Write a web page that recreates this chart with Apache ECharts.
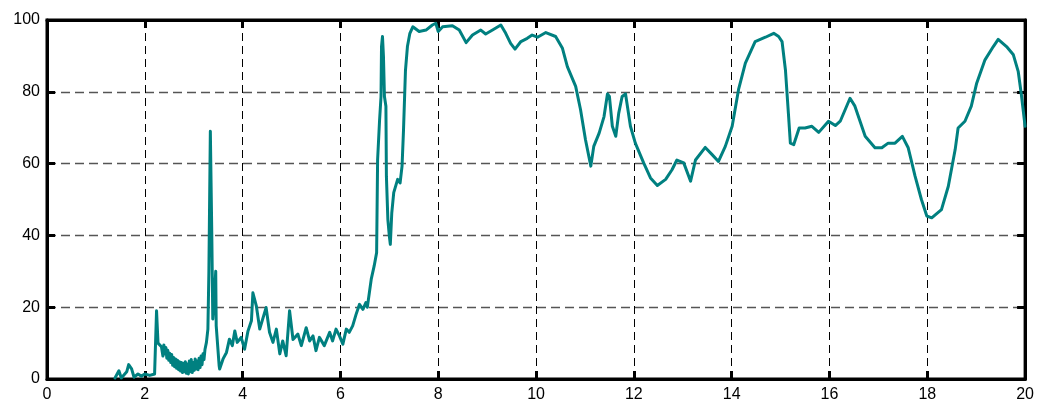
<!DOCTYPE html>
<html>
<head>
<meta charset="utf-8">
<script src="https://cdn.jsdelivr.net/npm/echarts@6/dist/echarts.min.js"></script>
<style>html,body{margin:0;padding:0;background:#fff}#c{width:1037px;height:403px}</style>
</head>
<body>
<div id="c"></div>
<script>
var xTicks = [0, 2, 4, 6, 8, 10, 12, 14, 16, 18, 20];
var yTicks = [0, 20, 40, 60, 80, 100];
var xValues = [
1.39,1.42,1.47,1.52,1.63,1.67,1.73,1.78,1.86,1.93,2.00,2.10,2.20,2.24,2.27,2.34,2.37,
2.39,2.41,2.43,2.45,2.47,2.49,2.51,2.53,2.55,2.57,2.59,2.61,2.63,2.65,2.67,2.69,2.71,2.73,2.75,2.77,2.79,
2.81,2.83,2.85,2.87,2.89,2.91,2.93,2.95,2.97,2.99,3.01,3.03,3.05,3.07,3.09,3.11,3.13,3.15,3.17,3.19,3.21,3.23,3.26,3.29,
3.31,3.34,3.37,3.39,3.43,3.45,3.46,3.52,3.53,3.60,3.67,3.73,3.79,3.84,3.89,3.97,
4.04,4.11,4.18,4.21,4.28,4.35,4.41,4.48,4.55,4.62,4.69,4.76,4.82,4.89,4.96,
5.03,5.13,5.20,5.30,5.37,5.44,5.50,5.57,5.67,5.78,5.84,5.91,5.98,
6.05,6.12,6.18,6.25,6.32,6.39,6.46,6.52,6.55,6.63,6.69,6.74,6.76,6.80,6.83,6.84,6.86,6.88,6.90,6.93,6.94,6.97,
7.00,7.02,7.05,7.09,7.17,7.22,7.26,7.29,7.33,7.37,7.42,7.48,7.61,7.75,7.88,7.95,
8.00,8.09,8.29,8.33,8.43,8.57,8.70,8.87,8.97,9.11,9.28,9.38,9.48,9.57,9.69,9.82,9.92,
10.03,10.20,10.40,10.54,10.64,10.81,10.91,11.01,11.12,11.18,11.29,11.39,11.46,11.50,11.56,11.63,11.69,11.76,11.83,11.93,
12.03,12.20,12.34,12.48,12.65,12.78,12.88,13.02,13.16,13.26,13.46,13.60,13.73,13.87,
14.01,14.14,14.28,14.48,14.69,14.86,14.96,15.03,15.10,15.16,15.20,15.27,15.38,15.50,15.64,15.78,15.98,
16.12,16.22,16.42,16.52,16.73,16.93,17.07,17.20,17.34,17.49,17.61,17.75,17.88,17.99,
18.09,18.29,18.43,18.57,18.63,18.77,18.90,19.01,19.18,19.35,19.45,19.62,19.76,19.86,19.92,20.00
];
var yValues = [
0.3,0.3,2.3,0.3,2.0,4.0,2.8,0.5,1.4,0.8,1.4,1.0,1.4,19.0,10.0,9.0,6.4,
9.5,7.0,8.8,5.8,8.0,5.2,7.2,4.6,6.8,3.8,6.0,3.4,5.6,3.0,5.2,2.6,4.8,2.2,4.6,1.8,4.4,
2.0,4.8,1.6,4.2,1.4,5.0,2.0,5.4,1.8,4.6,2.4,5.6,2.8,5.0,2.6,5.8,3.2,6.4,4.0,7.0,5.4,8.2,10.2,13.9,
29.7,69.0,40.0,16.7,25.0,30.0,14.8,3.7,2.8,5.6,7.4,11.1,9.3,13.4,10.2,11.6,
8.3,13.4,16.2,24.0,20.4,13.9,16.7,19.9,13.0,10.2,13.9,7.0,10.6,6.5,19.0,
11.0,12.5,9.3,14.3,10.6,12.0,7.9,11.6,9.3,13.0,10.6,13.9,12.0,
9.7,13.9,13.0,14.8,18.0,20.8,19.4,21.3,20.0,27.8,31.5,35.2,61.0,72.0,78.7,92.6,95.4,89.8,78.7,76.0,56.5,44.4,
39.8,37.5,46.3,51.9,55.6,54.6,59.3,69.4,86.0,92.6,96.3,98.1,96.8,97.2,98.6,99.1,
96.8,98.1,98.4,98.6,97.2,93.7,95.8,97.2,96.1,97.2,98.6,96.3,93.5,91.9,94.0,94.9,95.8,
95.2,96.5,95.4,92.1,87.0,81.5,75.0,66.7,59.3,64.8,68.5,73.1,79.4,78.7,70.4,67.6,74.0,78.7,79.4,70.4,
65.7,60.2,56.0,53.9,55.6,58.3,61.0,60.2,55.1,61.0,64.5,62.5,60.6,64.8,
70.4,80.6,88.0,94.0,95.2,96.3,95.4,94.0,86.0,74.0,65.7,65.3,69.9,69.9,70.4,68.7,71.8,
70.6,71.8,78.2,76.0,67.6,64.4,64.4,65.7,65.7,67.6,64.4,56.5,50.0,45.4,
44.9,47.2,53.7,63.9,69.9,71.8,76.0,82.4,88.9,92.6,94.6,92.6,90.3,85.6,79.6,70.4
];
var seriesData = xValues.map(function (x, i) { return [x, yValues[i]]; });

var chart = echarts.init(document.getElementById('c'), null, {renderer: 'canvas'});
var font = {fontFamily: 'Liberation Sans, Arial, sans-serif', fontSize: 16, color: '#000'};
var tickStyle = {show: true, inside: true, length: 8, lineStyle: {color: '#000', width: 3}};
chart.setOption({
  animation: false,
  backgroundColor: '#fff',
  grid: {left: 47, right: 10, top: 20, bottom: 23, show: true, borderColor: '#000', borderWidth: 3, backgroundColor: 'transparent'},
  xAxis: [{
    type: 'value', min: xTicks[0], max: xTicks[xTicks.length - 1], interval: 2, position: 'bottom',
    axisLine: {show: true, onZero: false, lineStyle: {color: '#000', width: 3}},
    axisTick: tickStyle,
    axisLabel: Object.assign({margin: 8, formatter: function (v) { return xTicks.indexOf(v) >= 0 ? String(v) : ''; }}, font),
    splitLine: {show: true, lineStyle: {color: '#000', width: 1, type: [8, 5]}}
  }, {
    type: 'value', min: xTicks[0], max: xTicks[xTicks.length - 1], interval: 2, position: 'top',
    axisLine: {show: true, onZero: false, lineStyle: {color: '#000', width: 3}},
    axisTick: tickStyle, axisLabel: {show: false}, splitLine: {show: false}
  }],
  yAxis: [{
    type: 'value', min: yTicks[0], max: yTicks[yTicks.length - 1], interval: 20, position: 'left',
    axisLine: {show: true, onZero: false, lineStyle: {color: '#000', width: 3}},
    axisTick: tickStyle,
    axisLabel: Object.assign({margin: 7}, font),
    splitLine: {show: true, lineStyle: {color: '#555', width: 1.3, type: [9, 5]}}
  }, {
    type: 'value', min: yTicks[0], max: yTicks[yTicks.length - 1], interval: 20, position: 'right',
    axisLine: {show: true, onZero: false, lineStyle: {color: '#000', width: 3}},
    axisTick: tickStyle, axisLabel: {show: false}, splitLine: {show: false}
  }],
  series: [{
    type: 'line', data: seriesData, xAxisIndex: 0, yAxisIndex: 0,
    showSymbol: false, symbol: 'none', smooth: false, clip: true,
    lineStyle: {color: '#008080', width: 3, join: 'round', cap: 'round'}
  }]
});
</script>
</body>
</html>
